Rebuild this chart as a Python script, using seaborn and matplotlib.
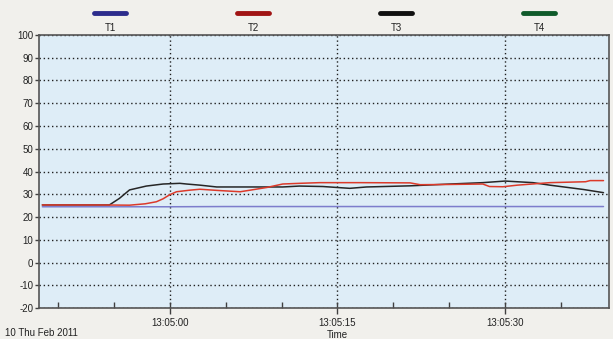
import pandas as pd
import matplotlib
matplotlib.use("Agg")
import matplotlib.pyplot as plt
import matplotlib.dates as mdates
from matplotlib.lines import Line2D
import seaborn as sns

# series names and legend colours
series_names = ["T1", "T2", "T3", "T4"]
legend_colors = ["#2c2c8c", "#a01414", "#101010", "#0f5a2a"]
line_colors = {"T1": "#7d7dcc", "T2": "#dc3a2a", "T3": "#262626", "T4": "#0f5a2a"}

# time in seconds relative to 13:05:00 (10 Feb 2011), values in degrees
t1_sec = [-11.4, 0.0, 5.0, 38.8]
t1_val = [24.5, 24.5, 24.6, 24.6]

t2_sec = [-11.4, -6.4, -3.6, -2.2, -1.2, -0.6, 0.0, 0.6, 1.8, 2.7, 4.2, 6.3, 7.2,
          8.7, 10.1, 11.6, 13.4, 17.0, 21.5, 22.4, 24.9, 28.0, 28.6, 29.8, 31.1,
          34.0, 37.2, 37.6, 38.8]
t2_val = [25.3, 25.3, 25.2, 25.8, 26.7, 28.0, 29.8, 31.1, 31.8, 32.2, 31.7, 31.1, 31.8,
          33.0, 34.5, 34.8, 35.1, 35.1, 35.0, 34.2, 34.3, 34.5, 33.4, 33.3, 34.0,
          35.1, 35.5, 36.0, 36.0]

t3_sec = [-11.4, -5.4, -4.5, -3.6, -2.1, -0.6, 0.9, 1.5, 2.7, 4.2, 7.2, 10.1, 11.6,
          13.7, 16.1, 17.6, 21.5, 25.1, 28.0, 30.0, 32.5, 34.0, 37.0, 38.8]
t3_val = [25.3, 25.3, 28.2, 31.9, 33.6, 34.5, 34.8, 34.5, 34.0, 33.2, 33.2, 33.2, 33.6,
          33.4, 32.6, 33.2, 33.7, 34.5, 35.1, 35.8, 35.1, 34.0, 32.1, 30.7]

base = pd.Timestamp("2011-02-10 13:05:00")


def to_frame(name, secs, vals):
    return pd.DataFrame({"time": base + pd.to_timedelta(secs, unit="s"),
                         "value": vals, "sensor": name})


df = pd.concat([to_frame("T1", t1_sec, t1_val),
                to_frame("T3", t3_sec, t3_val),
                to_frame("T2", t2_sec, t2_val)], ignore_index=True)

sns.set_style("white")
plt.rcParams["font.family"] = ["Liberation Sans Narrow", "Liberation Sans", "DejaVu Sans"]
plt.rcParams["font.size"] = 7
plt.rcParams["axes.unicode_minus"] = False

fig = plt.figure(figsize=(6.13, 3.39), dpi=100, facecolor="#f1f0ec")
ax = fig.add_axes([0.0636, 0.0914, 0.930, 0.8054])
ax.set_facecolor("#deedf7")

for name in ["T1", "T3", "T2"]:
    sub = df[df["sensor"] == name]
    sns.lineplot(data=sub, x="time", y="value", ax=ax, color=line_colors[name],
                 linewidth=1.1, legend=False, estimator=None, sort=False)

ax.set_ylim(-20, 100)
ax.set_yticks(range(-20, 101, 10))
ax.set_xlim(base - pd.Timedelta(seconds=11.7), base + pd.Timedelta(seconds=39.3))
ax.xaxis.set_major_locator(mdates.SecondLocator(bysecond=[0, 15, 30, 45]))
ax.xaxis.set_minor_locator(mdates.SecondLocator(bysecond=range(0, 60, 5)))
ax.xaxis.set_major_formatter(mdates.DateFormatter("%H:%M:%S"))

ax.grid(True, which="major", color="#202020", linestyle=(0, (1.0, 2.0)), linewidth=1.0)
ax.set_axisbelow(True)
ax.tick_params(axis="y", which="major", left=True, direction="out", length=3, width=1,
               color="#404040", pad=1, labelcolor="#222222")
ax.tick_params(axis="x", which="major", bottom=True, direction="inout", length=8, width=1,
               color="#404040", pad=3, labelcolor="#222222")
ax.tick_params(axis="x", which="minor", bottom=True, direction="in", length=4, width=1,
               color="#404040")
for sp in ax.spines.values():
    sp.set_color("#555555")
    sp.set_linewidth(1.2)

ax.set_xlabel("")
ax.set_ylabel("")

fig.text(0.008, 0.008, "10 Thu Feb 2011", fontsize=7, color="#222222")
fig.text(0.55, 0.003, "Time", fontsize=7, color="#222222", ha="center")

# legend row above the plot: swatch on top, label below
for i, (name, col) in enumerate(zip(series_names, legend_colors)):
    cx = (110 + i * 143) / 613
    fig.add_artist(Line2D([cx - 0.026, cx + 0.026], [0.962, 0.962], color=col,
                          linewidth=3.5, solid_capstyle="round"))
    fig.text(cx, 0.918, name, ha="center", va="center", fontsize=7, color="#222222")

fig.savefig("out.png", dpi=100, facecolor=fig.get_facecolor())
